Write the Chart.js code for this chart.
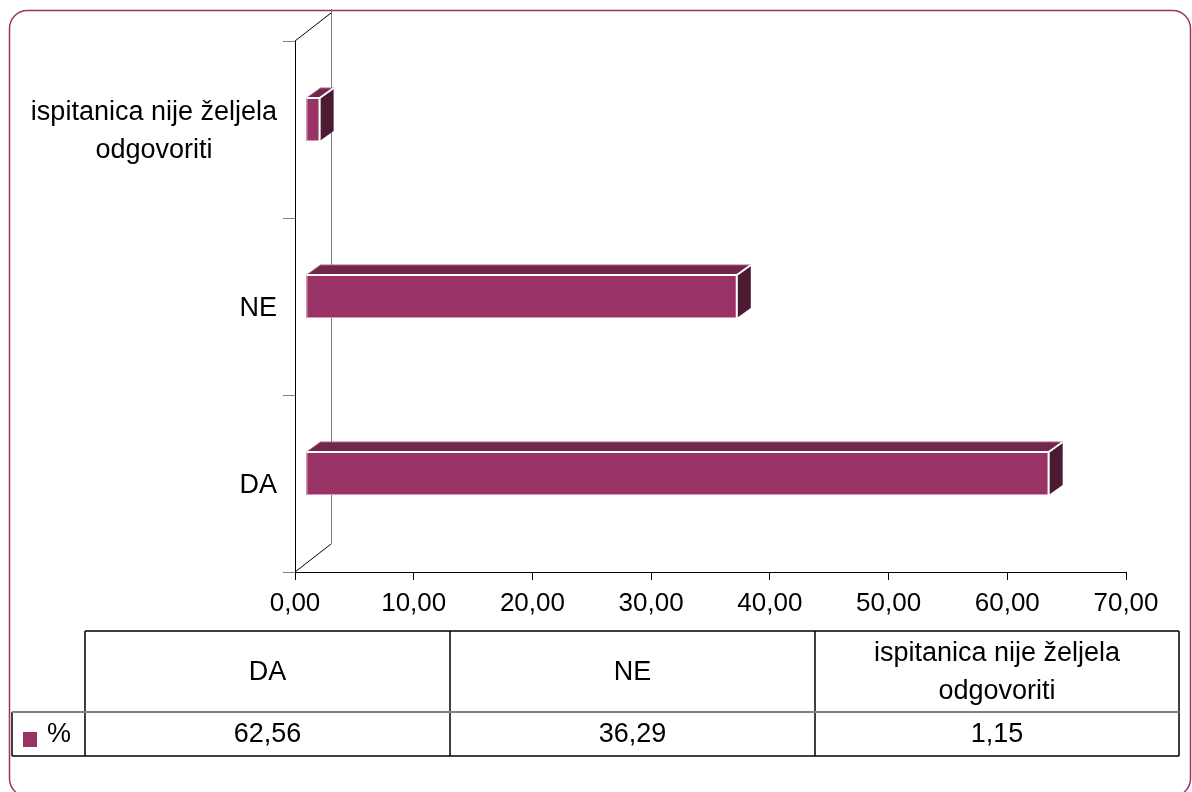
<!DOCTYPE html>
<html>
<head>
<meta charset="utf-8">
<script src="https://cdn.jsdelivr.net/npm/chart.js@4.4.0/dist/chart.umd.min.js"></script>
<style>
  html, body { margin: 0; padding: 0; background: #fff; }
  #wrap { width: 1192px; height: 792px; }
</style>
</head>
<body>
<div id="wrap"><canvas id="chart" width="1192" height="792"></canvas></div>
<script>
// chart data
const categories = ['DA', 'NE', ['ispitanica nije željela', 'odgovoriti']];
const percentValues = [62.56, 36.29, 1.15];
const seriesName = '%';
const xMin = 0;
const xMax = 70;
const xStep = 10;

const FONT = '"Liberation Sans", Arial, sans-serif';
const BAR_FRONT = '#993366';
const BAR_TOP = '#72264b';
const BAR_SIDE = '#4d1a33';

// 3D offsets: where the bar front face sits, and bar depth, wall depth
const FACE_OFF = { x: 11, y: -10 };
const BAR_DEPTH = { x: 14, y: -10 };
const WALL_DEPTH = { x: 36, y: -28 };

function fmt(v) {
    return v.toFixed(2).replace('.', ',');
}

// side wall behind the bars
const wallPlugin = {
    id: 'wall',
    beforeDatasetsDraw(chart) {
        const { ctx, chartArea: a } = chart;
        ctx.save();
        ctx.lineWidth = 1;
        ctx.strokeStyle = '#000';
        ctx.beginPath();
        ctx.moveTo(a.left, a.top);
        ctx.lineTo(a.left + WALL_DEPTH.x, a.top + WALL_DEPTH.y);
        ctx.moveTo(a.left, a.bottom);
        ctx.lineTo(a.left + WALL_DEPTH.x, a.bottom + WALL_DEPTH.y);
        ctx.stroke();
        ctx.strokeStyle = '#808080';
        ctx.beginPath();
        ctx.moveTo(a.left + WALL_DEPTH.x + 0.5, a.top + WALL_DEPTH.y - 4);
        ctx.lineTo(a.left + WALL_DEPTH.x + 0.5, a.bottom + WALL_DEPTH.y);
        ctx.stroke();
        ctx.restore();
    }
};

// 3D boxes drawn from the bar elements the library laid out
const boxPlugin = {
    id: 'boxes',
    afterDatasetsDraw(chart) {
        const ctx = chart.ctx;
        const meta = chart.getDatasetMeta(0);
        ctx.save();
        meta.data.forEach(el => {
            const x0 = el.base + FACE_OFF.x;
            const x1 = el.x + FACE_OFF.x;
            const y0 = el.y - el.height / 2 + FACE_OFF.y;
            const y1 = el.y + el.height / 2 + FACE_OFF.y;
            const dx = BAR_DEPTH.x, dy = BAR_DEPTH.y;

            // top face
            ctx.fillStyle = BAR_TOP;
            ctx.beginPath();
            ctx.moveTo(x0, y0);
            ctx.lineTo(x0 + dx, y0 + dy);
            ctx.lineTo(x1 + dx, y0 + dy);
            ctx.lineTo(x1, y0);
            ctx.closePath();
            ctx.fill();
            ctx.strokeStyle = '#b0668a';
            ctx.lineWidth = 1;
            ctx.stroke();

            // side face
            ctx.fillStyle = BAR_SIDE;
            ctx.beginPath();
            ctx.moveTo(x1, y0);
            ctx.lineTo(x1 + dx, y0 + dy);
            ctx.lineTo(x1 + dx, y1 + dy);
            ctx.lineTo(x1, y1);
            ctx.closePath();
            ctx.fill();

            // front face
            ctx.fillStyle = BAR_FRONT;
            ctx.fillRect(x0, y0, x1 - x0, y1 - y0);
            ctx.strokeStyle = '#d59ab7';
            ctx.strokeRect(x0 + 0.5, y0 + 0.5, x1 - x0 - 1, y1 - y0 - 1);

            // white edges
            ctx.strokeStyle = '#ffffff';
            ctx.lineWidth = 2;
            ctx.beginPath();
            ctx.moveTo(x0, y0);
            ctx.lineTo(x1, y0);
            ctx.lineTo(x1 + dx, y0 + dy);
            ctx.moveTo(x1, y0);
            ctx.lineTo(x1, y1);
            ctx.stroke();
        });
        ctx.restore();
    }
};

// category labels, data table and frame
const extrasPlugin = {
    id: 'extras',
    afterDraw(chart) {
        const { ctx, chartArea: a } = chart;
        const yScale = chart.scales.y;
        ctx.save();

        // category labels: block right-aligned, lines centred within it
        ctx.font = '27px ' + FONT;
        ctx.fillStyle = '#000';
        ctx.textAlign = 'center';
        ctx.textBaseline = 'middle';
        const rightEdge = a.left - 18;
        categories.forEach((cat, i) => {
            const lines = Array.isArray(cat) ? cat : [cat];
            const widest = Math.max(...lines.map(l => ctx.measureText(l).width));
            const cx = rightEdge - widest / 2;
            const cy = yScale.getPixelForValue(i);
            const lh = 38;
            lines.forEach((l, k) => {
                ctx.fillText(l, cx, cy + 2 + (k - (lines.length - 1) / 2) * lh);
            });
        });

        // data table
        const tTop = 631, tMid = 712, tBot = 756;
        const cols = [85, 450, 815, 1179];
        const legLeft = 12;
        ctx.strokeStyle = '#000';
        ctx.lineWidth = 1.5;
        ctx.beginPath();
        ctx.moveTo(cols[0], tTop); ctx.lineTo(cols[3], tTop);
        ctx.moveTo(legLeft, tBot); ctx.lineTo(cols[3], tBot);
        cols.forEach(c => { ctx.moveTo(c, tTop); ctx.lineTo(c, tBot); });
        ctx.moveTo(legLeft, tMid); ctx.lineTo(legLeft, tBot);
        ctx.stroke();
        ctx.strokeStyle = '#808080';
        ctx.lineWidth = 2;
        ctx.beginPath();
        ctx.moveTo(legLeft, tMid); ctx.lineTo(cols[3], tMid);
        ctx.stroke();

        ctx.font = '27px ' + FONT;
        ctx.textAlign = 'center';
        ctx.textBaseline = 'middle';
        categories.forEach((cat, i) => {
            const lines = Array.isArray(cat) ? cat : [cat];
            const cx = (cols[i] + cols[i + 1]) / 2;
            const cy = (tTop + tMid) / 2 + 1;
            lines.forEach((l, k) => {
                ctx.fillText(l, cx, cy + (k - (lines.length - 1) / 2) * 38);
            });
            ctx.fillText(fmt(percentValues[i]), cx, (tMid + tBot) / 2 + 1);
        });

        // legend key
        ctx.fillStyle = BAR_FRONT;
        ctx.fillRect(23, 732, 14, 15);
        ctx.fillStyle = '#000';
        ctx.textAlign = 'left';
        ctx.fillText(seriesName, 47, (tMid + tBot) / 2 + 1);

        // rounded frame (bottom edge runs just past the picture)
        ctx.strokeStyle = '#993366';
        ctx.lineWidth = 1.5;
        ctx.beginPath();
        ctx.roundRect(9.5, 10.5, 1181, 786, 18);
        ctx.stroke();

        ctx.restore();
    }
};

new Chart(document.getElementById('chart'), {
    type: 'bar',
    data: {
        labels: categories,
        datasets: [{
            label: seriesName,
            data: percentValues,
            backgroundColor: 'rgba(0,0,0,0)',
            borderWidth: 0,
            categoryPercentage: 1,
            barPercentage: 0.243
        }]
    },
    options: {
        indexAxis: 'y',
        responsive: false,
        devicePixelRatio: 1,
        animation: false,
        layout: { padding: { left: 195, right: 66, top: 41, bottom: 160 } },
        plugins: {
            legend: { display: false },
            tooltip: { enabled: false },
            title: { display: false }
        },
        scales: {
            x: {
                min: xMin,
                max: xMax,
                afterFit(scale) { scale.height = 60; },
                ticks: {
                    stepSize: xStep,
                    padding: 8,
                    color: '#000',
                    font: { family: FONT, size: 26 },
                    callback: v => fmt(v)
                },
                grid: {
                    drawOnChartArea: false,
                    drawTicks: true,
                    tickLength: 8,
                    color: '#000'
                },
                border: { display: true, color: '#000', width: 1 }
            },
            y: {
                reverse: true,
                afterFit(scale) { scale.width = 100; },
                ticks: { display: false },
                grid: {
                    offset: true,
                    drawOnChartArea: false,
                    drawTicks: true,
                    tickLength: 12,
                    color: '#808080'
                },
                border: { display: true, color: '#000', width: 1 }
            }
        }
    },
    plugins: [wallPlugin, boxPlugin, extrasPlugin]
});
</script>
</body>
</html>
